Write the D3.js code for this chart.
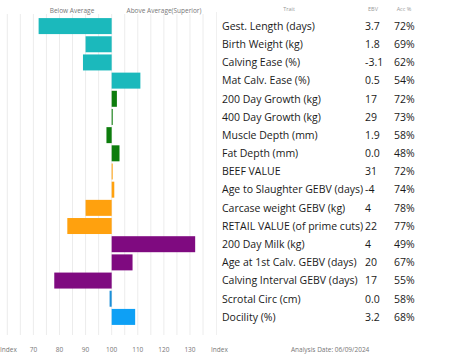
<!DOCTYPE html>
<html>
<head>
<meta charset="utf-8">
<script src="https://cdn.jsdelivr.net/npm/d3@7"></script>
<style>
  body { margin: 0; background: #fff; }
  svg { display: block; font-family: "Open Sans", sans-serif; }
</style>
</head>
<body>
<svg id="chart" width="453" height="362"></svg>
<script>
// trait table
let traits = [
  "Gest. Length (days)", "Birth Weight (kg)", "Calving Ease (%)", "Mat Calv. Ease (%)",
  "200 Day Growth (kg)", "400 Day Growth (kg)", "Muscle Depth (mm)", "Fat Depth (mm)",
  "BEEF VALUE", "Age to Slaughter GEBV (days)", "Carcase weight GEBV (kg)",
  "RETAIL VALUE (of prime cuts)", "200 Day Milk (kg)", "Age at 1st Calv. GEBV (days)",
  "Calving Interval GEBV (days)", "Scrotal Circ (cm)", "Docility (%)"
];
let ebv = ["3.7", "1.8", "-3.1", "0.5", "17", "29", "1.9", "0.0", "31", "-4", "4", "22", "4", "20", "17", "0.0", "3.2"];
let acc = ["72%", "69%", "62%", "54%", "72%", "73%", "58%", "48%", "72%", "74%", "78%", "77%", "49%", "67%", "55%", "58%", "68%"];
// index values (100 = breed average)
let index = [72, 90, 89, 111, 102, 100.4, 98, 103, 100.3, 101, 90, 83, 132, 108, 78, 99.2, 109];
let group = ["calv", "calv", "calv", "calv", "growth", "growth", "growth", "growth",
  "value", "value", "value", "value", "milk", "milk", "milk", "other", "other2"];
let tickVals = [70, 80, 90, 100, 110, 120, 130];

let group_color = {
  "calv": "#1bb9bc",
  "growth": "#0d7d0d",
  "value": "#ffa10e",
  "milk": "#7f0a80",
  "other": "#1b8fd8",
  "other2": "#0ea0f5"
};

const svg = d3.select("svg#chart");

const x = d3.scaleLinear().domain([60, 135]).range([7.3, 203]);
const y = d3.scaleBand().domain(traits).range([17, 326]).paddingInner(0.12).paddingOuter(0.06);

// grid lines every 5
svg.append("g")
  .selectAll("line")
  .data(d3.range(60, 136, 5))
  .join("line")
  .attr("x1", d => x(d)).attr("x2", d => x(d))
  .attr("y1", 14).attr("y2", 335)
  .attr("stroke", "#ececec")
  .attr("stroke-width", 1);

// faint table border
svg.append("line")
  .attr("x1", 216.5).attr("x2", 216.5).attr("y1", 12).attr("y2", 335)
  .attr("stroke", "#f0f0f0");

// header
svg.append("text").attr("x", 72).attr("y", 13).attr("text-anchor", "middle")
  .attr("font-size", 6.5).attr("fill", "#777").text("Below Average");
svg.append("text").attr("x", 164).attr("y", 13).attr("text-anchor", "middle")
  .attr("font-size", 6.5).attr("fill", "#777").text("Above Average(Superior)");
svg.append("text").attr("x", 289).attr("y", 11).attr("text-anchor", "middle")
  .attr("font-size", 5.5).attr("fill", "#999").text("Trait");
svg.append("text").attr("x", 373).attr("y", 11).attr("text-anchor", "middle")
  .attr("font-size", 5.5).attr("fill", "#999").text("EBV");
svg.append("text").attr("x", 404).attr("y", 11).attr("text-anchor", "middle")
  .attr("font-size", 5.5).attr("fill", "#999").text("Acc %");

// bars
svg.append("g")
  .selectAll("rect")
  .data(traits)
  .join("rect")
  .attr("x", (d, i) => Math.min(x(index[i]), x(100)))
  .attr("y", d => y(d))
  .attr("width", (d, i) => Math.max(1, Math.abs(x(index[i]) - x(100))))
  .attr("height", y.bandwidth())
  .attr("fill", (d, i) => group_color[group[i]]);

// table rows
const rows = svg.append("g").attr("font-size", 10.5).attr("fill", "#1a1a1a");
rows.selectAll("text.trait")
  .data(traits)
  .join("text")
  .attr("class", "trait")
  .attr("x", 222)
  .attr("y", d => y(d) + y.bandwidth() / 2 + 3.8)
  .text(d => d);
rows.selectAll("text.ebv")
  .data(traits)
  .join("text")
  .attr("class", "ebv")
  .attr("x", 365)
  .attr("y", d => y(d) + y.bandwidth() / 2 + 3.8)
  .text((d, i) => ebv[i]);
rows.selectAll("text.acc")
  .data(traits)
  .join("text")
  .attr("class", "acc")
  .attr("x", 394)
  .attr("y", d => y(d) + y.bandwidth() / 2 + 3.8)
  .text((d, i) => acc[i]);

// bottom axis labels
const ax = svg.append("g").attr("font-size", 6.5).attr("fill", "#777");
ax.selectAll("text.tick")
  .data(tickVals)
  .join("text")
  .attr("class", "tick")
  .attr("x", d => x(d))
  .attr("y", 352)
  .attr("text-anchor", "middle")
  .text(d => d);
ax.append("text").attr("x", 0).attr("y", 352).text("Index");
ax.append("text").attr("x", 211).attr("y", 352).text("Index");
ax.append("text").attr("x", 291).attr("y", 352).text("Analysis Date: 06/09/2024");
</script>
</body>
</html>
